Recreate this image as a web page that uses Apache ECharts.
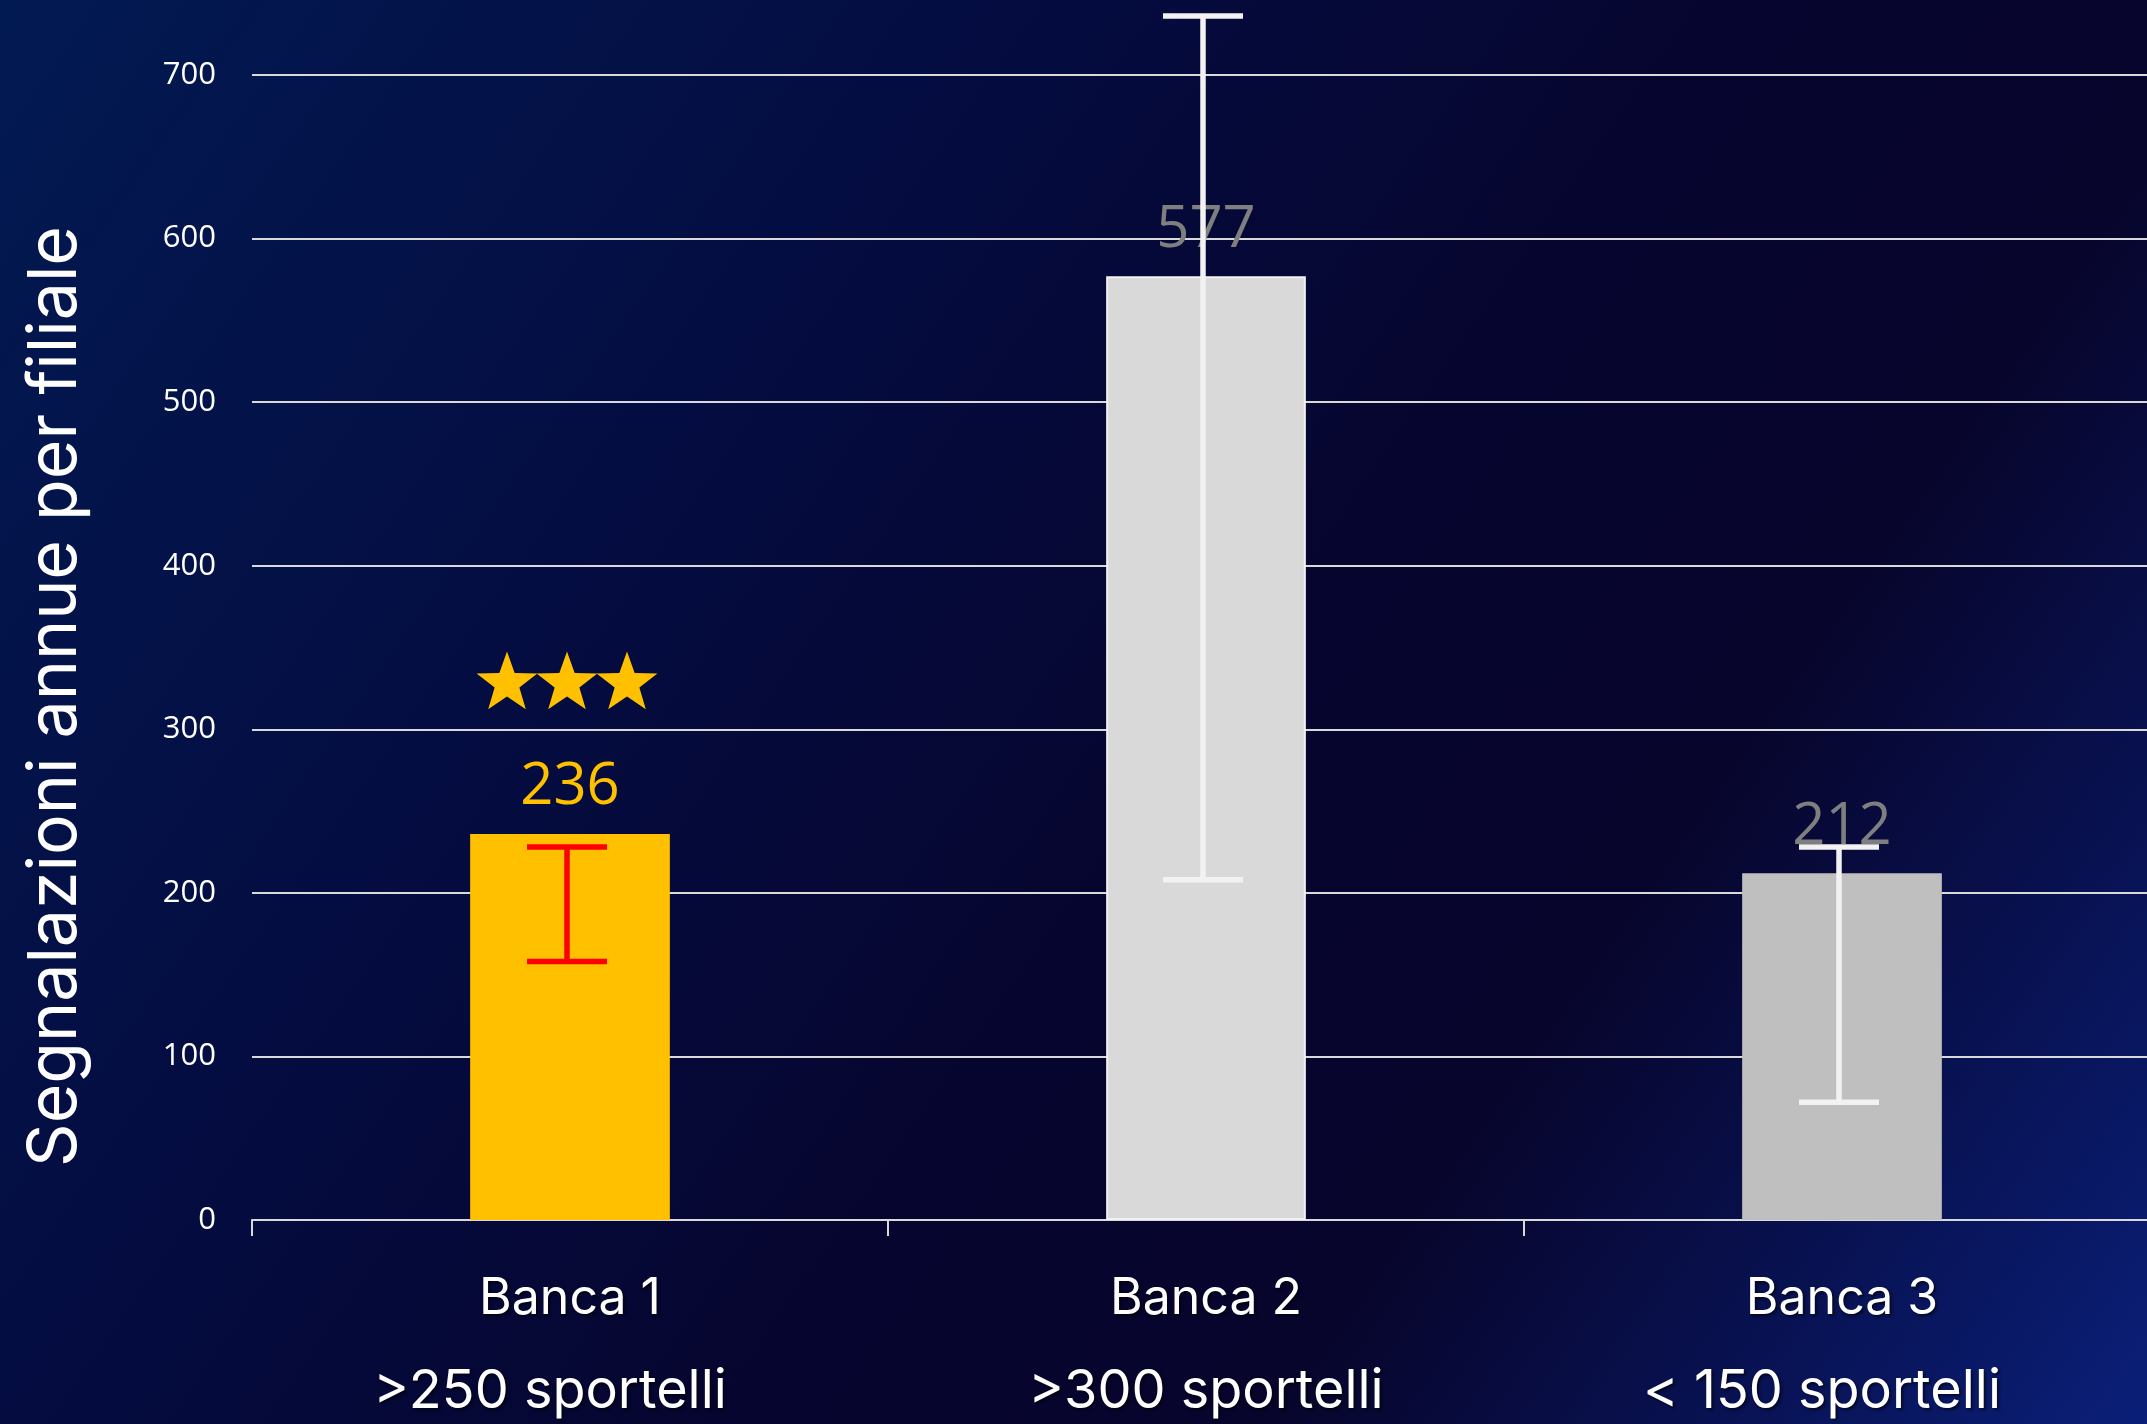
<!DOCTYPE html>
<html>
<head>
<meta charset="utf-8">
<script src="https://cdn.jsdelivr.net/npm/echarts@6/dist/echarts.min.js"></script>
<style>
html,body{margin:0;padding:0;overflow:hidden;}
body{width:2147px;height:1424px;background:linear-gradient(125deg,#021a52 0%,#040d42 30%,#06052f 55%,#07052c 72%,#0a1f78 100%);}
#chart{width:2162px;height:1424px;}
</style>
</head>
<body>
<div id="chart"></div>
<script>
const categories = ['Banca 1', 'Banca 2', 'Banca 3'];
const subLabels = ['>250 sportelli', '>300 sportelli', '< 150 sportelli'];
const values = [236, 577, 212];
const errLow = [158, 208, 72];
const errHigh = [228, 736, 228];
const barColors = ['#FFC000', '#D9D9D9', '#BFBFBF'];
const labelColors = ['#FFC000', '#7F7F7F', '#7F7F7F'];
const errColors = ['#FF0000', '#F2F2F2', '#F2F2F2'];
const yTicks = [0, 100, 200, 300, 400, 500, 600, 700];
const starCategory = 0;
const starValue = 328;
const axisTitle = 'Segnalazioni annue per filiale';

const chart = echarts.init(document.getElementById('chart'), null, {renderer: 'canvas'});

function starPoints(cx, cy, R, r) {
  const pts = [];
  for (let i = 0; i < 10; i++) {
    const ang = -Math.PI / 2 + i * Math.PI / 5;
    const rad = i % 2 === 0 ? R : r;
    pts.push([cx + rad * Math.cos(ang), cy + rad * Math.sin(ang)]);
  }
  return pts;
}

const shadow = {textShadowColor: 'rgba(0,0,0,0.6)', textShadowBlur: 3, textShadowOffsetX: 2, textShadowOffsetY: 2};
const subStyle = ['c', 'b', 'c'];

const option = {
  animation: false,
  backgroundColor: 'transparent',
  grid: {left: 252, right: 2, top: 75, bottom: 204, containLabel: false},
  xAxis: {
    type: 'category',
    data: categories,
    axisLine: {show: true, lineStyle: {color: '#D9D9D9', width: 2}},
    axisTick: {show: true, length: 16, lineStyle: {color: '#D9D9D9', width: 2}},
    axisLabel: {
      margin: 36,
      formatter: function (v, i) { return '{a|' + v + '}\n{' + subStyle[i] + '|' + subLabels[i] + '}'; },
      rich: {
        a: Object.assign({fontFamily: 'Inter', fontSize: 50, color: '#FFFFFF', lineHeight: 86}, shadow),
        b: Object.assign({fontFamily: 'Inter', fontSize: 54, color: '#FFFFFF', lineHeight: 100}, shadow),
        c: Object.assign({fontFamily: 'Inter', fontSize: 54, color: '#FFFFFF', lineHeight: 100, padding: [0, 40, 0, 0]}, shadow)
      }
    }
  },
  yAxis: {
    type: 'value',
    min: yTicks[0],
    max: yTicks[yTicks.length - 1],
    interval: 100,
    axisLine: {show: false},
    axisTick: {show: false},
    splitLine: {show: true, lineStyle: {color: '#D9D9D9', width: 2}},
    axisLabel: {fontFamily: 'Open Sans', fontSize: 31, color: '#FFFFFF', margin: 36}
  },
  graphic: [{
    type: 'text',
    left: 22,
    top: 226,
    rotation: Math.PI / 2,
    style: {text: axisTitle, fontFamily: 'Inter', fontSize: 68, fill: '#FFFFFF'},
    silent: true
  }],
  series: [
    {
      type: 'bar',
      barWidth: '31.4%',
      data: values.map(function (v, i) {
        return {
          value: v,
          itemStyle: {color: barColors[i], borderColor: i === 1 ? '#F2F2F2' : barColors[i], borderWidth: i === 1 ? 2 : 0},
          label: {color: labelColors[i]}
        };
      }),
      label: {show: true, position: 'top', distance: 17, fontFamily: 'Open Sans', fontSize: 58}
    },
    {
      type: 'custom',
      clip: false,
      z: 5,
      data: categories.map(function (c, i) { return [i, errLow[i], errHigh[i]]; }),
      renderItem: function (params, api) {
        const i = api.value(0);
        const lo = api.coord([i, api.value(1)]);
        const hi = api.coord([i, api.value(2)]);
        const x = lo[0] - 3;
        const half = 40;
        const style = {stroke: errColors[params.dataIndex], lineWidth: 5.5, fill: null};
        return {
          type: 'group',
          children: [
            {type: 'line', shape: {x1: x, y1: lo[1], x2: x, y2: hi[1]}, style: style},
            {type: 'line', shape: {x1: x - half, y1: lo[1], x2: x + half, y2: lo[1]}, style: style},
            {type: 'line', shape: {x1: x - half, y1: hi[1], x2: x + half, y2: hi[1]}, style: style}
          ]
        };
      }
    },
    {
      type: 'custom',
      clip: false,
      z: 6,
      data: [[starCategory, starValue]],
      renderItem: function (params, api) {
        const c = api.coord([api.value(0), api.value(1)]);
        const children = [-60, 0, 60].map(function (dx) {
          return {type: 'polygon', shape: {points: starPoints(c[0] - 3 + dx, c[1], 32, 13)}, style: {fill: '#FFC000'}};
        });
        return {type: 'group', children: children};
      }
    }
  ]
};
chart.setOption(option);
</script>
</body>
</html>
